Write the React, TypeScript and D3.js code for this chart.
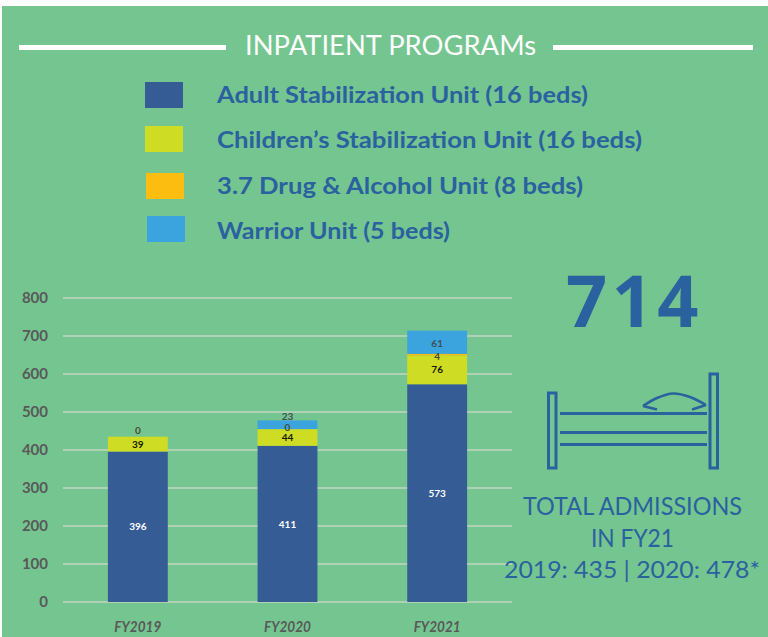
import React from "react";
import * as d3 from "d3";

const years = ["FY2019", "FY2020", "FY2021"];
const adult = [396, 411, 573];
const children = [39, 44, 76];
const drug = [0, 0, 4];
const warrior = [null, 23, 61];
const yTicks = [0, 100, 200, 300, 400, 500, 600, 700, 800];
const seriesNames = [
  "Adult Stabilization Unit (16 beds)",
  "Children\u2019s Stabilization Unit (16 beds)",
  "3.7 Drug & Alcohol Unit (8 beds)",
  "Warrior Unit (5 beds)",
];
const seriesColors = ["#365C96", "#CEDC24", "#FDBD10", "#3BA3DD"];
const labelColors = ["#ffffff", "#1a1a00", "#4a4a30", "#3f4f55"];
const legendTextWidths = [371, 425, 366, 233];
const legendBoxes = [[145, 82], [145, 126], [146, 173], [147, 216]];
const legendBaselines = [103, 148, 194, 239];
// nudges so the crowded labels sit where the reference placed them
const labelNudges = [
  [0, 0, -6, 0],
  [0, 0, -2, -8],
  [0, 0, 2, 1],
];

const BLUE = "#2A619F";
const SANS = "Lato, 'Open Sans', sans-serif";

export default function App() {
  const x = d3.scaleBand<string>().domain(years).range([63, 512]).paddingInner(0.6).paddingOuter(0.3);
  const y = d3.scaleLinear().domain([0, 800]).range([602, 298]);
  const rows = years.map((yr, i) => ({
    yr,
    s0: adult[i],
    s1: children[i],
    s2: drug[i],
    s3: warrior[i] ?? 0,
  }));
  const keys = ["s0", "s1", "s2", "s3"];
  const stacked = d3.stack<any>().keys(keys)(rows);
  const rawSeries = [adult, children, drug, warrior];
  const pillow = d3.line().curve(d3.curveCatmullRom)([[643, 406], [657, 398], [673, 393.5], [690, 397], [706, 405]]) ?? "";

  return (
    <svg width={768} height={637} style={{ position: "absolute", left: 0, top: 0, background: "#fff" }} fontFamily={SANS}>
      <rect x={2} y={6} width={766} height={631} fill="#75C590" />

      <rect x={19} y={45} width={207} height={5} fill="#fff" />
      <rect x={553} y={45} width={200} height={5} fill="#fff" />
      <text x={245} y={55} fill="#fff" fontSize={27} fontWeight={400} textLength={291} lengthAdjust="spacingAndGlyphs">
        INPATIENT PROGRAMs
      </text>

      {seriesNames.map((name, i) => (
        <g key={name}>
          <rect x={legendBoxes[i][0]} y={legendBoxes[i][1]} width={38} height={26} fill={seriesColors[i]} />
          <text x={217} y={legendBaselines[i]} fill={BLUE} fontSize={23} fontWeight={700} textLength={legendTextWidths[i]} lengthAdjust="spacingAndGlyphs">
            {name}
          </text>
        </g>
      ))}

      {yTicks.map((t) => (
        <g key={t}>
          <line x1={63} x2={512} y1={y(t)} y2={y(t)} stroke="#C3D6C3" strokeWidth={1.6} />
          <text x={48} y={y(t)} dy="0.36em" textAnchor="end" fill="#595959" fontSize={15} fontWeight={700}>
            {t}
          </text>
        </g>
      ))}

      {stacked.map((layer, si) => (
        <g key={si}>
          {layer.map((d, i) => (
            <rect
              key={i}
              x={x(years[i])}
              width={x.bandwidth()}
              y={y(d[1])}
              height={Math.max(0, y(d[0]) - y(d[1]))}
              fill={seriesColors[si]}
            />
          ))}
        </g>
      ))}
      {stacked.map((layer, si) =>
        layer.map((d, i) =>
          rawSeries[si][i] === null ? null : (
            <text
              key={`${si}-${i}`}
              x={(x(years[i]) ?? 0) + x.bandwidth() / 2}
              y={y((d[0] + d[1]) / 2) + labelNudges[i][si]}
              dy="0.36em"
              textAnchor="middle"
              fill={labelColors[si]}
              fontSize={10}
              fontWeight={700}
            >
              {rawSeries[si][i]}
            </text>
          )
        )
      )}

      {years.map((yr) => (
        <text key={yr} x={(x(yr) ?? 0) + x.bandwidth() / 2} y={632} textAnchor="middle" fill="#595959" fontSize={15} fontWeight={700} fontStyle="italic" textLength={47} lengthAdjust="spacingAndGlyphs">
          {yr}
        </text>
      ))}

      <text x={566} y={327} fill={BLUE} fontSize={72} fontWeight={700} fontFamily="'Open Sans', sans-serif" letterSpacing={4.5}>
        714
      </text>

      <g fill="none" stroke={BLUE} strokeWidth={3}>
        <rect x={548.5} y={393} width={7.5} height={75} />
        <rect x={710} y={374} width={7.5} height={94} />
        <line x1={560} x2={707} y1={413.5} y2={413.5} />
        <line x1={560} x2={707} y1={432.5} y2={432.5} />
        <line x1={560} x2={707} y1={444.5} y2={444.5} />
        <path d={pillow} strokeWidth={2.6} />
        <path d="M643 406 L657 409.5" strokeWidth={2.6} />
        <path d="M706 405 L692 409.5" strokeWidth={2.6} />
      </g>

      <g fill={BLUE} fontSize={25}>
        <text x={523} y={515} textLength={219} lengthAdjust="spacingAndGlyphs">TOTAL ADMISSIONS</text>
        <text x={591} y={546.5} textLength={83} lengthAdjust="spacingAndGlyphs">IN FY21</text>
        <text x={504} y={578} fontSize={24} textLength={256} lengthAdjust="spacingAndGlyphs">2019: 435 | 2020: 478*</text>
      </g>
    </svg>
  );
}
